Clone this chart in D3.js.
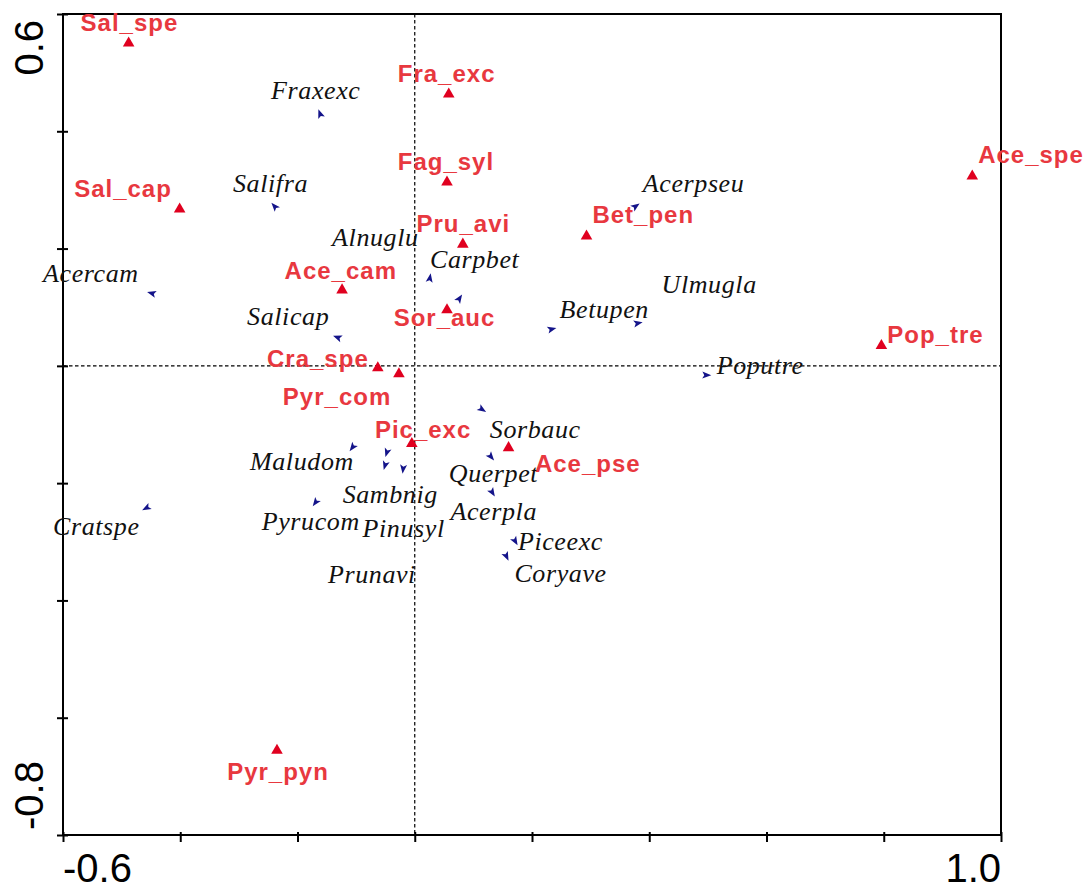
<!DOCTYPE html>
<html>
<head>
<meta charset="utf-8">
<script src="https://cdn.jsdelivr.net/npm/d3@7"></script>
<style>
	body { margin: 0; background: #fff; }
	svg { display: block; }
	.red-label { font-family: "Liberation Sans", Arial, sans-serif; font-weight: bold; font-size: 24px; letter-spacing: 1px; fill: #e8383f; }
	.blk-label { font-family: "Liberation Serif", "Times New Roman", serif; font-style: italic; font-size: 26px; letter-spacing: 0.6px; fill: #111; }
	.end-label { font-family: "Liberation Sans", Arial, sans-serif; font-size: 40px; fill: #000; }
</style>
</head>
<body>
<svg id="chart" width="1090" height="889"></svg>
<script>

// Data
// ==============================================

var xTicks = [-0.6, -0.4, -0.2, 0, 0.2, 0.4, 0.6, 0.8, 1.0];
var yTicks = [-0.8, -0.6, -0.4, -0.2, 0, 0.2, 0.4, 0.6];
var xEndLabels = ["-0.6", "1.0"];
var yEndLabels = ["0.6", "-0.8"];

// red triangles
var triNames = ["Sal_spe", "Fra_exc", "Fag_syl", "Pru_avi", "Ace_cam", "Sal_cap", "Bet_pen", "Ace_spe",
	"Pop_tre", "Sor_auc", "Cra_spe", "Pyr_com", "Pic_exc", "Ace_pse", "Pyr_pyn"];
var triX = [-0.488, 0.058, 0.055, 0.082, -0.124, -0.401, 0.293, 0.951, 0.796, 0.055, -0.063, -0.027, -0.005, 0.160, -0.235];
var triY = [0.552, 0.465, 0.315, 0.209, 0.131, 0.269, 0.223, 0.325, 0.036, 0.097, -0.002, -0.012, -0.131, -0.138, -0.654];
var triLabelX = [-0.570, -0.029, -0.029, 0.003, -0.222, -0.581, 0.303, 0.961, 0.806, -0.036, -0.252, -0.225, -0.068, 0.205, -0.320];
var triLabelY = [0.571, 0.484, 0.334, 0.228, 0.148, 0.288, 0.244, 0.346, 0.039, 0.068, -0.002, -0.067, -0.123, -0.181, -0.706];

// blue arrows
var arrNames = ["Fraxexc", "Salifra", "Acercam", "Alnuglu", "Carpbet", "Salicap", "Acerpseu", "Ulmugla", "Betupen",
	"Poputre", "Sorbauc", "Querpet", "Acerpla", "Piceexc", "Coryave", "Maludom", "Sambnig", "Pinusyl", "Prunavi",
	"Pyrucom", "Cratspe"];
var arrX = [-0.162, -0.240, -0.450, 0.077, 0.026, -0.133, 0.378, 0.382, 0.235, 0.499, 0.116, 0.131, 0.133,
	0.172, 0.157, -0.107, -0.048, -0.020, -0.051, -0.170, -0.459];
var arrY = [0.431, 0.273, 0.124, 0.116, 0.151, 0.049, 0.273, 0.073, 0.063, -0.016, -0.075, -0.156, -0.217,
	-0.300, -0.326, -0.140, -0.149, -0.177, -0.171, -0.234, -0.243];
var arrLabelX = [-0.245, -0.310, -0.634, -0.141, 0.026, -0.286, 0.389, 0.421, 0.247, 0.515, 0.128, 0.058, 0.061,
	0.176, 0.170, -0.281, -0.123, -0.089, -0.148, -0.261, -0.617];
var arrLabelY = [0.455, 0.297, 0.143, 0.204, 0.167, 0.070, 0.297, 0.124, 0.082, -0.014, -0.123, -0.198, -0.263,
	-0.314, -0.369, -0.178, -0.234, -0.292, -0.370, -0.280, -0.288];

// Scales
// ==============================================

var plotLeft = 63, plotRight = 1001, plotTop = 14, plotBottom = 835;

var xScale = d3.scaleLinear().domain([-0.6, 1.0]).range([plotLeft, plotRight]);
var yScale = d3.scaleLinear().domain([-0.8, 0.6]).range([plotBottom, plotTop]);

var svg = d3.select("#chart");

// Zero lines
// ==============================================

svg.append("line")
	.attr("x1", xScale(0)).attr("x2", xScale(0))
	.attr("y1", plotTop).attr("y2", plotBottom)
	.attr("stroke", "#000").attr("stroke-width", 1.2).attr("stroke-dasharray", "3.5,2.5");

svg.append("line")
	.attr("x1", plotLeft).attr("x2", plotRight)
	.attr("y1", yScale(0)).attr("y2", yScale(0))
	.attr("stroke", "#000").attr("stroke-width", 1.2).attr("stroke-dasharray", "3.5,2.5");

// Frame and axes
// ==============================================

svg.append("rect")
	.attr("x", plotLeft).attr("y", plotTop)
	.attr("width", plotRight - plotLeft).attr("height", plotBottom - plotTop)
	.attr("fill", "none").attr("stroke", "#000").attr("stroke-width", 2);

var xAxis = svg.append("g")
	.attr("transform", "translate(0," + plotBottom + ")")
	.call(d3.axisBottom(xScale).tickValues(xTicks).tickSize(7).tickSizeOuter(0).tickFormat(""));
xAxis.select(".domain").remove();
xAxis.selectAll("line").attr("y1", -3).attr("stroke-width", 2);

var yAxis = svg.append("g")
	.attr("transform", "translate(" + plotLeft + ",0)")
	.call(d3.axisLeft(yScale).tickValues(yTicks).tickSize(6).tickSizeOuter(0).tickFormat(""));
yAxis.select(".domain").remove();
yAxis.selectAll("line").attr("x1", 5).attr("stroke-width", 2);

// end labels
svg.append("text").attr("class", "end-label")
	.attr("x", xScale(-0.6)).attr("y", 882)
	.attr("text-anchor", "start").text(xEndLabels[0]);
svg.append("text").attr("class", "end-label")
	.attr("x", xScale(1.0)).attr("y", 882)
	.attr("text-anchor", "end").text(xEndLabels[1]);

svg.append("text").attr("class", "end-label")
	.attr("transform", "translate(43," + (yScale(0.6) + 6) + ") rotate(-90)")
	.attr("text-anchor", "end").text(yEndLabels[0]);
svg.append("text").attr("class", "end-label")
	.attr("transform", "translate(43," + (yScale(-0.8) - 5) + ") rotate(-90)")
	.attr("text-anchor", "start").text(yEndLabels[1]);

// Blue arrow heads
// ==============================================

var arrows = d3.range(arrNames.length).map(function(i){
	return { name: arrNames[i], x: arrX[i], y: arrY[i], lx: arrLabelX[i], ly: arrLabelY[i] };
});

svg.append("g").selectAll("path")
	.data(arrows)
	.enter().append("path")
	.attr("d", "M4,0L-5,-3.5L-3,0L-5,3.5Z")
	.attr("fill", "#14148a")
	.attr("transform", function(d){
		var px = xScale(d.x), py = yScale(d.y);
		var ang = Math.atan2(py - yScale(0), px - xScale(0)) * 180 / Math.PI;
		return "translate(" + px + "," + py + ") rotate(" + ang + ")";
	});

svg.append("g").selectAll("text")
	.data(arrows)
	.enter().append("text")
	.attr("class", "blk-label")
	.attr("x", function(d){ return xScale(d.lx); })
	.attr("y", function(d){ return yScale(d.ly); })
	.text(function(d){ return d.name; });

// Red triangles
// ==============================================

var tris = d3.range(triNames.length).map(function(i){
	return { name: triNames[i], x: triX[i], y: triY[i], lx: triLabelX[i], ly: triLabelY[i] };
});

svg.append("g").selectAll("path")
	.data(tris)
	.enter().append("path")
	.attr("d", d3.symbol().type(d3.symbolTriangle).size(58))
	.attr("fill", "#e0001f")
	.attr("transform", function(d){
		return "translate(" + xScale(d.x) + "," + (yScale(d.y) + 1) + ")";
	});

svg.append("g").selectAll("text")
	.data(tris)
	.enter().append("text")
	.attr("class", "red-label")
	.attr("x", function(d){ return xScale(d.lx); })
	.attr("y", function(d){ return yScale(d.ly); })
	.text(function(d){ return d.name; });

</script>
</body>
</html>
